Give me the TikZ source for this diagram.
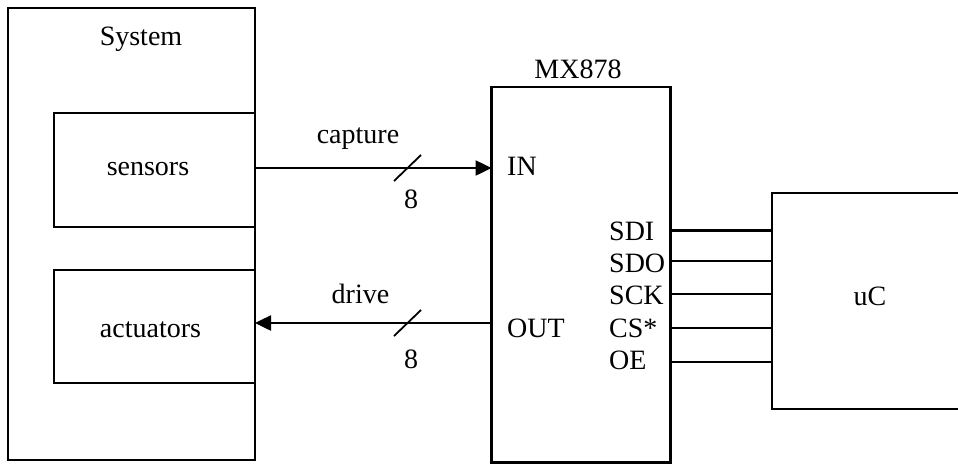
\documentclass[tikz,border=0pt]{standalone}
\usepackage{fontspec}
\setmainfont{Liberation Serif}
\usetikzlibrary{arrows.meta}
\begin{document}
\begin{tikzpicture}[x=1pt,y=-1pt,
  blk/.style={draw,line width=2.5pt,inner sep=0pt},
  lbl/.style={inner sep=0pt,font=\fontsize{28}{32}\selectfont},
  wire/.style={line width=2.5pt},
  bus/.style={line width=2.5pt,-{Triangle[length=16pt,width=15pt]}},
  slashmark/.style={line width=1.8pt}]
\useasboundingbox (0,0) rectangle (958,464);
\clip (0,0) rectangle (958,464);
% blocks
\draw[blk] (8,8) rectangle (255,460);
\draw[blk] (54,113) rectangle (255,227);
\draw[blk] (54,270) rectangle (255,383);
\draw[blk] (491.5,87) rectangle (670.5,462.5);
\draw[blk] (980,193) -- (772,193) -- (772,409) -- (980,409);
% labels
\node[lbl,anchor=base] (sys) at (141,45) {System};
\node[lbl,anchor=base] (sens) at (148,175) {sensors};
\node[lbl,anchor=base] (act) at (150.5,337) {actuators};
\node[lbl,anchor=base] (mx) at (578,78) {MX878};
\node[lbl,anchor=base] (uc) at (870,305) {uC};
\node[lbl,anchor=base west] (in) at (507,175) {IN};
\node[lbl,anchor=base west] (out) at (507,337) {OUT};
\node[lbl,anchor=base west] (sdi) at (609,240) {SDI};
\node[lbl,anchor=base west] (sdo) at (609,272) {SDO};
\node[lbl,anchor=base west] (sck) at (609,304) {SCK};
\node[lbl,anchor=base west] (cs) at (609,337) {CS*};
\node[lbl,anchor=base west] (oe) at (609,369) {OE};
\node[lbl,anchor=base] (cap) at (358,143) {capture};
\node[lbl,anchor=base] (drv) at (360.5,303) {drive};
\node[lbl,anchor=base] (n1) at (411,208) {8};
\node[lbl,anchor=base] (n2) at (411,368) {8};
% connection points
\coordinate (sensR) at (255,168);
\coordinate (mxIN) at (491.5,168);
\coordinate (mxOUT) at (491.5,323);
\coordinate (actR) at (255,323);
\draw[bus] (sensR) -- (mxIN);
\draw[bus] (mxOUT) -- (actR);
\draw[slashmark] (394,181) -- (421,155);
\draw[slashmark] (394,336) -- (421,310);
% SPI wires
\foreach \yy in {230.7,261,294,328,362}{
  \draw[wire] (670.5,\yy) -- (772,\yy);
}
\end{tikzpicture}
\end{document}
